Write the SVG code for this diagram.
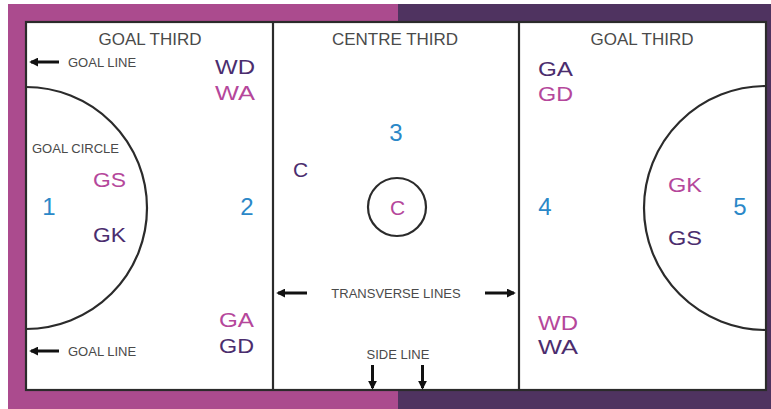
<svg xmlns="http://www.w3.org/2000/svg" width="771" height="409" viewBox="0 0 771 409">
  <style>
    .line { fill: none; stroke: #2b2b2b; stroke-width: 2.2; }
    .arrow { stroke: #111; stroke-width: 3; marker-end: url(#head); }
    .zone { font-family: "Liberation Sans", Arial, sans-serif; font-size: 17px; fill: #4a4a4a; text-anchor: middle; }
    .note { font-family: "Liberation Sans", Arial, sans-serif; font-size: 13px; fill: #4a4a4a; }
    .pos { font-family: "Liberation Sans", Arial, sans-serif; font-size: 21px; }
    .num { font-family: "Liberation Sans", Arial, sans-serif; font-size: 24px; fill: #2b88c8; text-anchor: middle; }
    .dark { fill: #4b2d6e; }
    .pink { fill: #b5479b; }
  </style>
  <defs>
    <marker id="head" viewBox="0 0 10 10" refX="8" refY="5" markerUnits="userSpaceOnUse" markerWidth="9" markerHeight="9" orient="auto">
      <path d="M0,0 L10,5 L0,10 z" fill="#111"/>
    </marker>
  </defs>

  <!-- team-coloured surround -->
  <g id="surround">
    <rect x="8" y="4" width="390" height="405" fill="#ab4b8e"/>
    <rect x="398" y="4" width="373" height="405" fill="#4f3360"/>
  </g>

  <!-- court outline, thirds and circles -->
  <g id="court">
    <rect x="26" y="22" width="740" height="368" fill="#ffffff"/>
    <rect x="26" y="22" width="740" height="368" class="line"/>
    <line x1="273" y1="22" x2="273" y2="390" class="line"/>
    <line x1="519" y1="22" x2="519" y2="390" class="line"/>
    <path d="M26,87 A121,121 0 0 1 26,329" class="line"/>
    <path d="M766,86 A122,122 0 0 0 766,330" class="line"/>
    <circle cx="397" cy="207" r="29" class="line"/>
  </g>

  <g id="zone-labels">
    <text x="150" y="45" class="zone">GOAL THIRD</text>
    <text x="395" y="45" class="zone">CENTRE THIRD</text>
    <text x="642" y="45" class="zone">GOAL THIRD</text>
  </g>

  <g id="connectors">
    <line x1="59" y1="62" x2="31" y2="62" class="arrow"/>
    <line x1="59" y1="351" x2="31" y2="351" class="arrow"/>
    <line x1="307" y1="293" x2="278" y2="293" class="arrow"/>
    <line x1="485" y1="293" x2="514" y2="293" class="arrow"/>
    <line x1="372.5" y1="365" x2="372.5" y2="388" class="arrow"/>
    <line x1="422.5" y1="365" x2="422.5" y2="388" class="arrow"/>
  </g>

  <g id="line-notes">
    <text x="68" y="67" class="note">GOAL LINE</text>
    <text x="68" y="356" class="note">GOAL LINE</text>
    <text x="32" y="153" class="note">GOAL CIRCLE</text>
    <text x="396" y="298" class="note" text-anchor="middle">TRANSVERSE LINES</text>
    <text x="398" y="359" class="note" text-anchor="middle">SIDE LINE</text>
  </g>

  <g id="area-numbers">
    <text x="49" y="215" class="num">1</text>
    <text x="247" y="215" class="num">2</text>
    <text x="396" y="141" class="num">3</text>
    <text x="545" y="215" class="num">4</text>
    <text x="740" y="215" class="num">5</text>
  </g>

  <g id="left-third">
    <text x="215" y="74" class="pos dark" textLength="40" lengthAdjust="spacingAndGlyphs">WD</text>
    <text x="215" y="100" class="pos pink" textLength="40" lengthAdjust="spacingAndGlyphs">WA</text>
    <text x="219" y="327" class="pos pink" textLength="35" lengthAdjust="spacingAndGlyphs">GA</text>
    <text x="219" y="353" class="pos dark" textLength="35" lengthAdjust="spacingAndGlyphs">GD</text>
    <text x="93" y="187" class="pos pink" textLength="33" lengthAdjust="spacingAndGlyphs">GS</text>
    <text x="93" y="242" class="pos dark" textLength="33" lengthAdjust="spacingAndGlyphs">GK</text>
  </g>

  <g id="centre-third">
    <text x="300.5" y="177" class="pos dark" text-anchor="middle">C</text>
    <text x="397.5" y="215" class="pos pink" text-anchor="middle">C</text>
  </g>

  <g id="right-third">
    <text x="538" y="76" class="pos dark" textLength="35" lengthAdjust="spacingAndGlyphs">GA</text>
    <text x="538" y="101" class="pos pink" textLength="35" lengthAdjust="spacingAndGlyphs">GD</text>
    <text x="538" y="330" class="pos pink" textLength="40" lengthAdjust="spacingAndGlyphs">WD</text>
    <text x="538" y="354" class="pos dark" textLength="40" lengthAdjust="spacingAndGlyphs">WA</text>
    <text x="668" y="192" class="pos pink" textLength="34" lengthAdjust="spacingAndGlyphs">GK</text>
    <text x="668" y="245" class="pos dark" textLength="34" lengthAdjust="spacingAndGlyphs">GS</text>
  </g>
</svg>
